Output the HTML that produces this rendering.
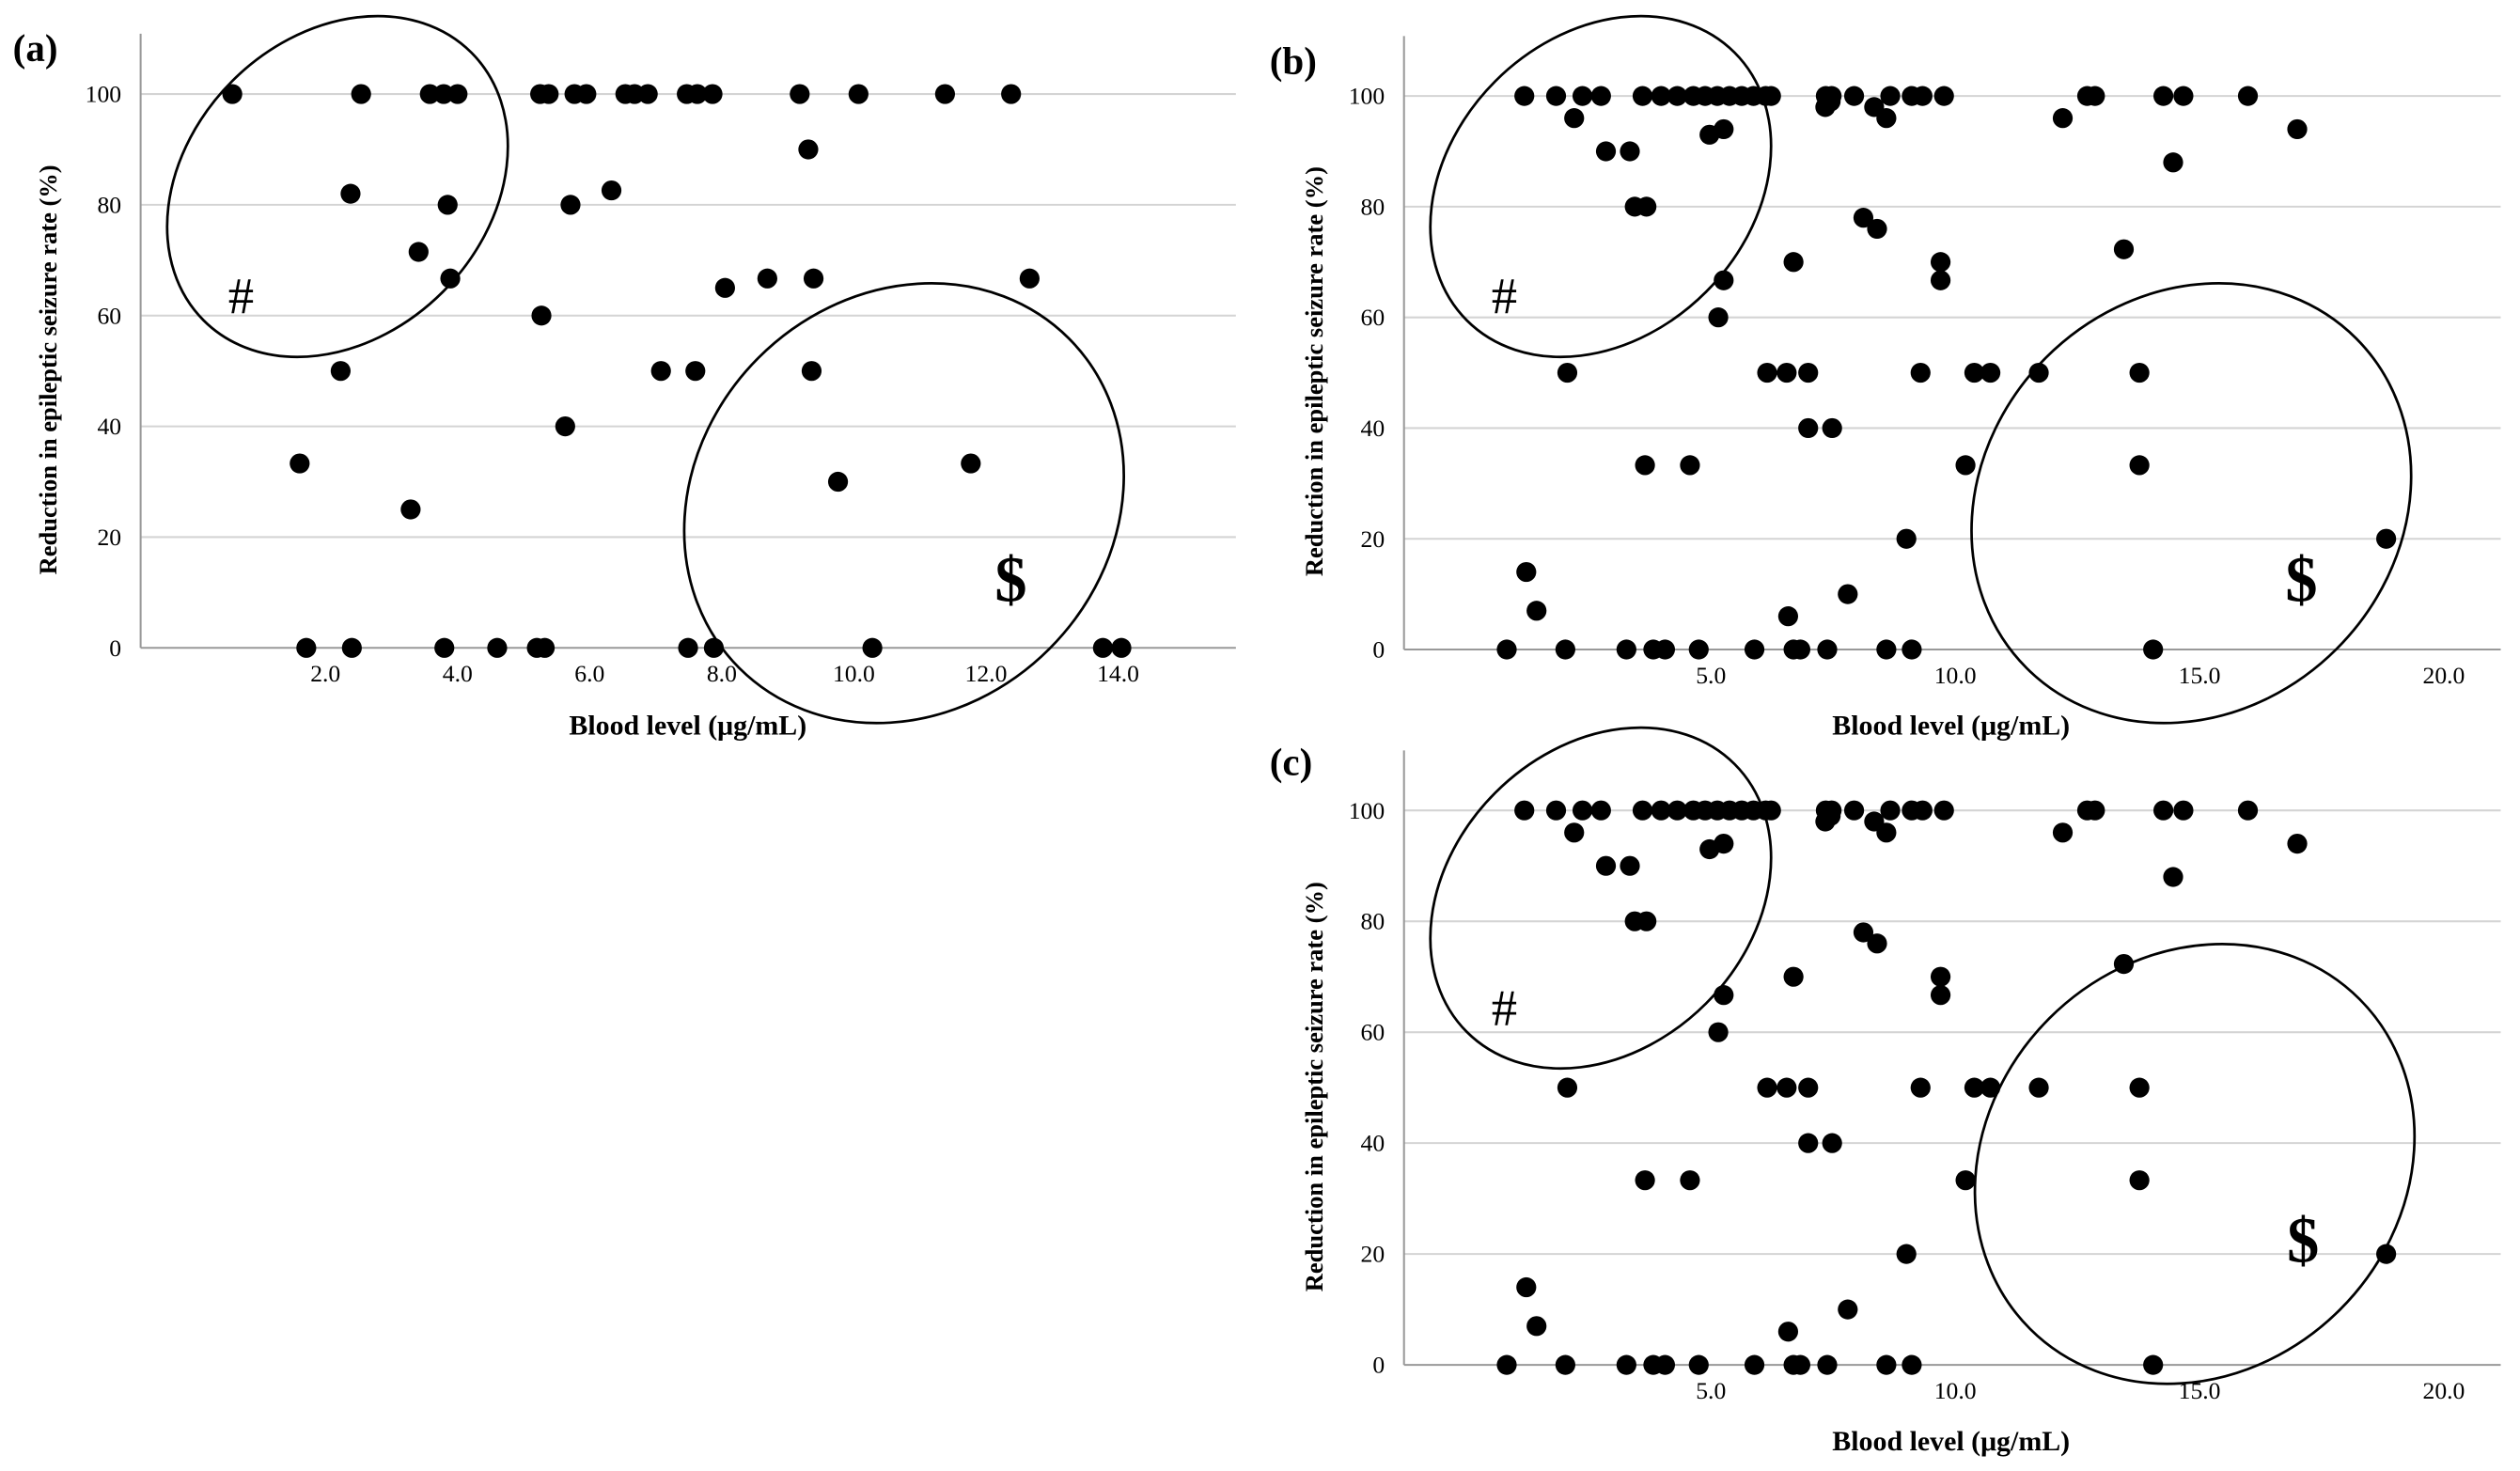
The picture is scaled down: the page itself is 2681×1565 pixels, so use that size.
<!DOCTYPE html>
<html><head><meta charset="utf-8"><style>
html,body{margin:0;padding:0;background:#fff;}
svg{display:block;}
text{font-family:"Liberation Serif",serif;fill:#000;}
</style></head><body>
<svg id="fig" width="2681" height="1565" viewBox="0 0 1568 915" preserveAspectRatio="none" xmlns="http://www.w3.org/2000/svg"></svg>
<script>
const yTicks=[0,20,40,60,80,100];
const aXTicks=["2.0","4.0","6.0","8.0","10.0","12.0","14.0"];
const bXTicks=["5.0","10.0","15.0","20.0"];
const aX=[0.59,2.54,3.58,3.79,4.0,5.25,5.38,5.77,5.95,6.54,6.68,6.88,7.47,7.63,7.86,9.18,10.07,11.38,12.38,
9.31,2.38,6.33,3.85,5.71,3.41,3.89,8.69,9.39,12.66,8.05,5.27,2.23,7.08,7.6,9.36,5.63,1.61,11.77,9.76,3.29,
1.71,2.4,3.8,4.6,5.2,5.32,7.49,7.88,10.28,13.77,14.05];
const aY=[100,100,100,100,100,100,100,100,100,100,100,100,100,100,100,100,100,100,100,
90,82,82.6,80,80,71.5,66.7,66.7,66.7,66.7,65,60,50,50,50,50,40,33.3,33.3,30,25,
0,0,0,0,0,0,0,0,0,0,0];
const bX=[1.18,1.83,2.37,2.75,3.6,3.98,4.31,4.64,4.88,5.13,5.38,5.63,5.87,6.12,6.23,7.35,7.47,7.93,8.67,9.11,9.33,9.77,12.7,12.86,14.26,14.67,15.99,
7.34,7.45,2.2,8.59,12.2,8.34,17.0,5.26,4.97,2.85,3.34,14.46,3.44,3.68,8.12,8.4,13.45,6.69,9.7,5.26,9.7,5.15,
2.06,6.15,6.55,6.99,9.29,10.39,10.72,11.71,13.77,6.99,7.48,3.65,4.57,10.21,13.77,9.0,18.82,1.22,1.43,7.8,6.58,
0.82,2.02,3.27,3.82,4.06,4.75,5.89,6.69,6.83,7.38,8.59,9.11,14.05];
const bY=[100,100,100,100,100,100,100,100,100,100,100,100,100,100,100,100,100,100,100,100,100,100,100,100,100,100,100,
98,99,96,96,96,98,94,94,93,90,90,88,80,80,78,76,72.3,70,70,66.7,66.7,60,
50,50,50,50,50,50,50,50,50,40,40,33.3,33.3,33.3,33.3,20,20,14,7,10,6,
0,0,0,0,0,0,0,0,0,0,0,0,0];
const NS="http://www.w3.org/2000/svg";
const svg=document.getElementById('fig');
function mk(tag,attrs,parent){const e=document.createElementNS(NS,tag);for(const k in attrs)e.setAttribute(k,attrs[k]);(parent||svg).appendChild(e);return e;}
function panel(p){
  const g=mk('g',{});
  
  
  const sx=v=>p.x0+v*p.kx, sy=v=>p.y0-(p.y0-p.y100)*v/100;
  yTicks.forEach(t=>{
    if(t>0){const l=mk('line',{x1:p.ax,x2:p.right,y1:sy(t),y2:sy(t),stroke:'#d4d4d4','stroke-width':1.2},g);
    
    }
    const tx=mk('text',{x:p.ax-12,y:sy(t)+5,'text-anchor':'end','font-size':15},g);tx.textContent=t;
    
    
  });
  const ya=mk('line',{x1:p.ax,x2:p.ax,y1:p.top,y2:p.y0,stroke:'#999','stroke-width':1.2},g);
  
  
  const xa=mk('line',{x1:p.ax,x2:p.right,y1:p.y0,y2:p.y0,stroke:'#999','stroke-width':1.2},g);
  
  
  p.ticks.forEach(t=>{const tx=mk('text',{x:sx(parseFloat(t)),y:p.y0+21,'text-anchor':'middle','font-size':15},g);tx.textContent=t;
    
    });
  p.xs.forEach((v,i)=>{const c=mk('circle',{cx:sx(v),cy:sy(p.ys[i]),r:6.2,fill:'#000'},g);
    
    });
  p.ells.forEach(e=>{const el=mk('ellipse',{cx:e[0],cy:e[1],rx:e[2],ry:e[3],transform:`rotate(45 ${e[0]} ${e[1]})`,fill:'none',stroke:'#000','stroke-width':1.6},g);
    
    });
  const h=mk('text',{x:p.hash[0],y:p.hash[1],'font-size':32,'text-anchor':'middle'},g);h.textContent='#';
  
  
  const d=mk('text',{x:p.dol[0],y:p.dol[1],'font-size':40,'font-weight':'bold','text-anchor':'middle'},g);d.textContent='$';
  
  
  const lb=mk('text',{x:p.lab[0],y:p.lab[1],'font-size':24,'font-weight':'bold'},g);lb.textContent='('+p.id+')';
  
  
  const xt=mk('text',{x:p.xt[0],y:p.xt[1],'font-size':17.5,'font-weight':'bold','text-anchor':'middle'},g);xt.textContent='Blood level (μg/mL)';
  
  
  const yt=mk('text',{x:0,y:0,'font-size':15.5,'font-weight':'bold','text-anchor':'middle',transform:`translate(${p.yt[0]} ${p.yt[1]}) rotate(-90)`},g);yt.textContent='Reduction in epileptic seizure rate (%)';
  
  
}
panel({id:'a',x0:120.3,kx:41.1,ax:87.5,right:769,y0:403,y100:58.5,top:21,ticks:aXTicks,xs:aX,ys:aY,
  ells:[[210,116,92.7,117.8],[562.5,313,128,145]],hash:[150,195],dol:[629,374],lab:[8,38],xt:[428,457],yt:[35,230]});
panel({id:'b',x0:912.6,kx:30.4,ax:873.6,right:1556,y0:404,y100:59.7,top:22.4,ticks:bXTicks,xs:bX,ys:bY,
  ells:[[996,116,92.7,117.8],[1363.5,313,128,145]],hash:[936,195],dol:[1432,374],lab:[790,46],xt:[1214,457],yt:[823,231]});
panel({id:'c',x0:912.6,kx:30.4,ax:873.6,right:1556,y0:849,y100:504.1,top:466.8,ticks:bXTicks,xs:bX,ys:bY,
  ells:[[996,558.6,92.7,117.8],[1365.6,724,128,145]],hash:[936,638],dol:[1433,785],lab:[790,482],xt:[1214,902],yt:[823,676]});
</script>
</body></html>
